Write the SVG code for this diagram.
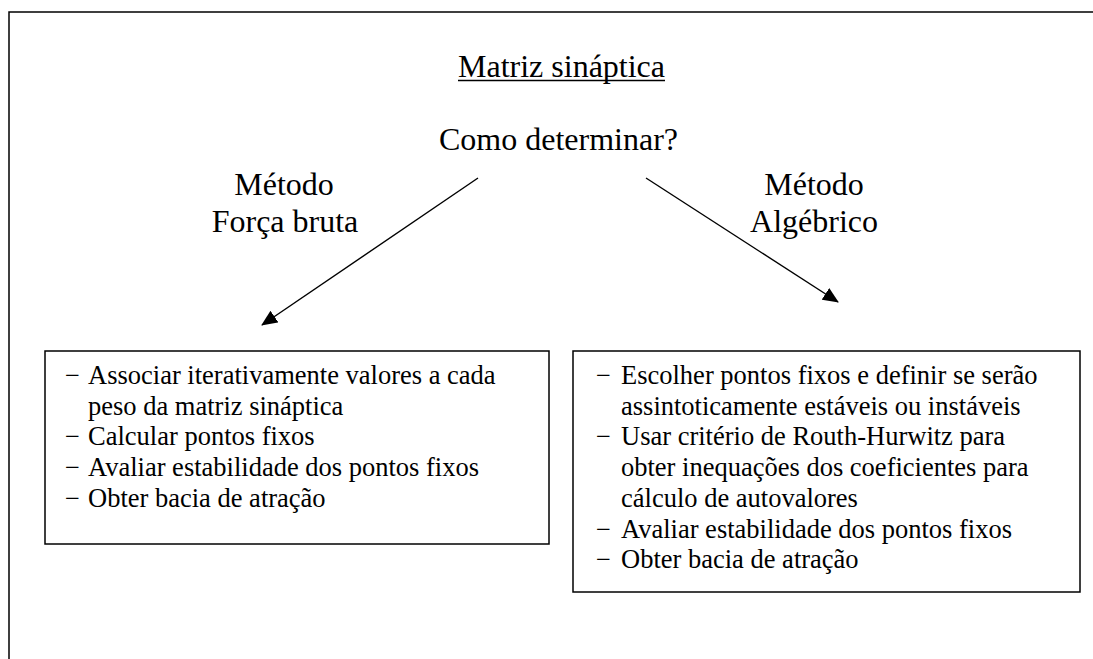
<svg xmlns="http://www.w3.org/2000/svg" width="1093" height="659" viewBox="0 0 1093 659">
<style>
text{font-family:"Liberation Serif","Times New Roman",serif;fill:#000}
.h{font-size:32px;text-anchor:middle}
.b{font-size:26.5px}
.box{fill:#fff;stroke:#000;stroke-width:1.5}
.con{stroke:#000;stroke-width:1.4;fill:none}
</style>
<defs>
<marker id="ah" markerWidth="16" markerHeight="14" refX="15" refY="7" orient="auto" markerUnits="userSpaceOnUse">
<path d="M0,0 L16,7 L0,14 Z" fill="#000"/>
</marker>
</defs>
<rect width="1093" height="659" fill="#fff"/>
<path d="M9,659 V12 H1093" fill="none" stroke="#000" stroke-width="1.5"/>
<g id="title">
<text class="h" x="561.5" y="77">Matriz sináptica</text>
<line x1="458" y1="80.5" x2="665" y2="80.5" stroke="#000" stroke-width="1.5"/>
</g>
<g id="question"><text class="h" x="558.5" y="150">Como determinar?</text></g>
<g id="label-forca"><text class="h" x="284" y="195">Método</text><text class="h" x="285" y="232">Força bruta</text></g>
<g id="label-algebrico"><text class="h" x="814" y="195">Método</text><text class="h" x="814" y="232">Algébrico</text></g>
<g id="connectors">
<line class="con" x1="478" y1="178" x2="262" y2="325" marker-end="url(#ah)"/>
<line class="con" x1="646" y1="178" x2="838" y2="302" marker-end="url(#ah)"/>
</g>
<g id="box-forca">
<rect class="box" x="45" y="351" width="504" height="193"/>
<text class="b" x="65" y="384">−</text><text class="b" x="88" y="384">Associar iterativamente valores a cada</text>
<text class="b" x="88" y="414.7">peso da matriz sináptica</text>
<text class="b" x="65" y="445.4">−</text><text class="b" x="88" y="445.4">Calcular pontos fixos</text>
<text class="b" x="65" y="476.1">−</text><text class="b" x="88" y="476.1">Avaliar estabilidade dos pontos fixos</text>
<text class="b" x="65" y="506.8">−</text><text class="b" x="88" y="506.8">Obter bacia de atração</text>
</g>
<g id="box-algebrico">
<rect class="box" x="573" y="351" width="507" height="241"/>
<text class="b" x="596" y="384">−</text><text class="b" x="621" y="384">Escolher pontos fixos e definir se serão</text>
<text class="b" x="621" y="414.7">assintoticamente estáveis ou instáveis</text>
<text class="b" x="596" y="445.4">−</text><text class="b" x="621" y="445.4">Usar critério de Routh-Hurwitz para</text>
<text class="b" x="621" y="476.1">obter inequações dos coeficientes para</text>
<text class="b" x="621" y="506.8">cálculo de autovalores</text>
<text class="b" x="596" y="537.5">−</text><text class="b" x="621" y="537.5">Avaliar estabilidade dos pontos fixos</text>
<text class="b" x="596" y="568.2">−</text><text class="b" x="621" y="568.2">Obter bacia de atração</text>
</g>
</svg>
